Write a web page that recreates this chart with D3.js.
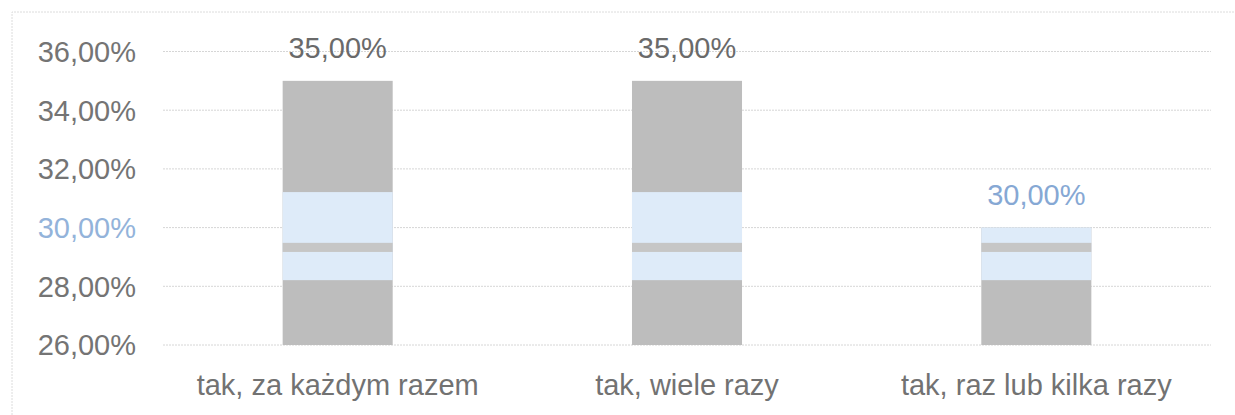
<!DOCTYPE html>
<html>
<head>
<meta charset="utf-8">
<script src="https://cdn.jsdelivr.net/npm/d3@7"></script>
<style>
  body { margin: 0; background: #fff; }
  text { font-family: "Liberation Sans", Arial, sans-serif; }
</style>
</head>
<body>
<svg id="chart" width="1235" height="415"></svg>
<script>
// Bar chart (scanned look)

var categories = ["tak, za każdym razem", "tak, wiele razy", "tak, raz lub kilka razy"];
var values = [35, 35, 30];
var tickValues = [26, 28, 30, 32, 34, 36];
var tickLabels = ["26,00%", "28,00%", "30,00%", "32,00%", "34,00%", "36,00%"];
var valueLabels = ["35,00%", "35,00%", "30,00%"];
// light band left by the scanner, in axis units
var scanBand = [28.21, 31.21];
var scanStripe = [29.17, 29.48];

var svg = d3.select("#chart");

var x = d3.scaleBand()
  .domain(categories)
  .range([163, 1211])
  .paddingInner(0.685)
  .paddingOuter(0.3425);

var y = d3.scaleLinear().domain([26, 36]).range([345, 51.5]);

// frame
svg.append("path")
  .attr("d", "M12,415V12H1235")
  .attr("fill", "none")
  .attr("stroke", "#dcdcdc")
  .attr("stroke-dasharray", "2,1");

// gridlines
svg.append("g")
  .selectAll("line")
  .data(tickValues)
  .enter()
  .append("line")
  .attr("x1", 163)
  .attr("x2", 1211)
  .attr("y1", function (d) { return y(d); })
  .attr("y2", function (d) { return y(d); })
  .attr("stroke", "#d6d6d6")
  .attr("stroke-dasharray", "2,1");

// y labels
svg.append("g")
  .selectAll("text")
  .data(tickValues)
  .enter()
  .append("text")
  .attr("x", 136)
  .attr("y", function (d) { return y(d); })
  .attr("dy", "0.36em")
  .attr("text-anchor", "end")
  .attr("font-size", "29px")
  .attr("fill", function (d) {
    return d >= scanBand[0] && d <= scanBand[1] ? "#93b3da" : "#747474";
  })
  .text(function (d, i) { return tickLabels[i]; });

// clip for bars so the scan band only shows on them
var clip = svg.append("clipPath").attr("id", "bars-clip");
clip.selectAll("rect")
  .data(values)
  .enter()
  .append("rect")
  .attr("x", function (d, i) { return x(categories[i]); })
  .attr("y", function (d) { return y(d); })
  .attr("width", x.bandwidth())
  .attr("height", function (d) { return y(26) - y(d); });

// bars
svg.append("g")
  .selectAll("rect")
  .data(values)
  .enter()
  .append("rect")
  .attr("x", function (d, i) { return x(categories[i]); })
  .attr("y", function (d) { return y(d); })
  .attr("width", x.bandwidth())
  .attr("height", function (d) { return y(26) - y(d); })
  .attr("fill", "#bdbdbd");

var band = svg.append("g").attr("clip-path", "url(#bars-clip)");

band.append("rect")
  .attr("x", 163)
  .attr("width", 1048)
  .attr("y", y(scanBand[1]))
  .attr("height", y(scanBand[0]) - y(scanBand[1]))
  .attr("fill", "#deebf9");

band.append("rect")
  .attr("x", 163)
  .attr("width", 1048)
  .attr("y", y(scanStripe[1]))
  .attr("height", y(scanStripe[0]) - y(scanStripe[1]))
  .attr("fill", "#c6c6c6");

// value labels
svg.append("g")
  .selectAll("text")
  .data(values)
  .enter()
  .append("text")
  .attr("x", function (d, i) { return x(categories[i]) + x.bandwidth() / 2; })
  .attr("y", function (d) { return y(d) - 23; })
  .attr("text-anchor", "middle")
  .attr("font-size", "29px")
  .attr("fill", function (d) {
    return y(d) - 33 > y(scanBand[1]) ? "#86a8d4" : "#6a6a6a";
  })
  .text(function (d, i) { return valueLabels[i]; });

// x labels
svg.append("g")
  .selectAll("text")
  .data(categories)
  .enter()
  .append("text")
  .attr("x", function (d) { return x(d) + x.bandwidth() / 2; })
  .attr("y", 395)
  .attr("text-anchor", "middle")
  .attr("font-size", "29px")
  .attr("fill", "#727272")
  .text(function (d) { return d; });
</script>
</body>
</html>
